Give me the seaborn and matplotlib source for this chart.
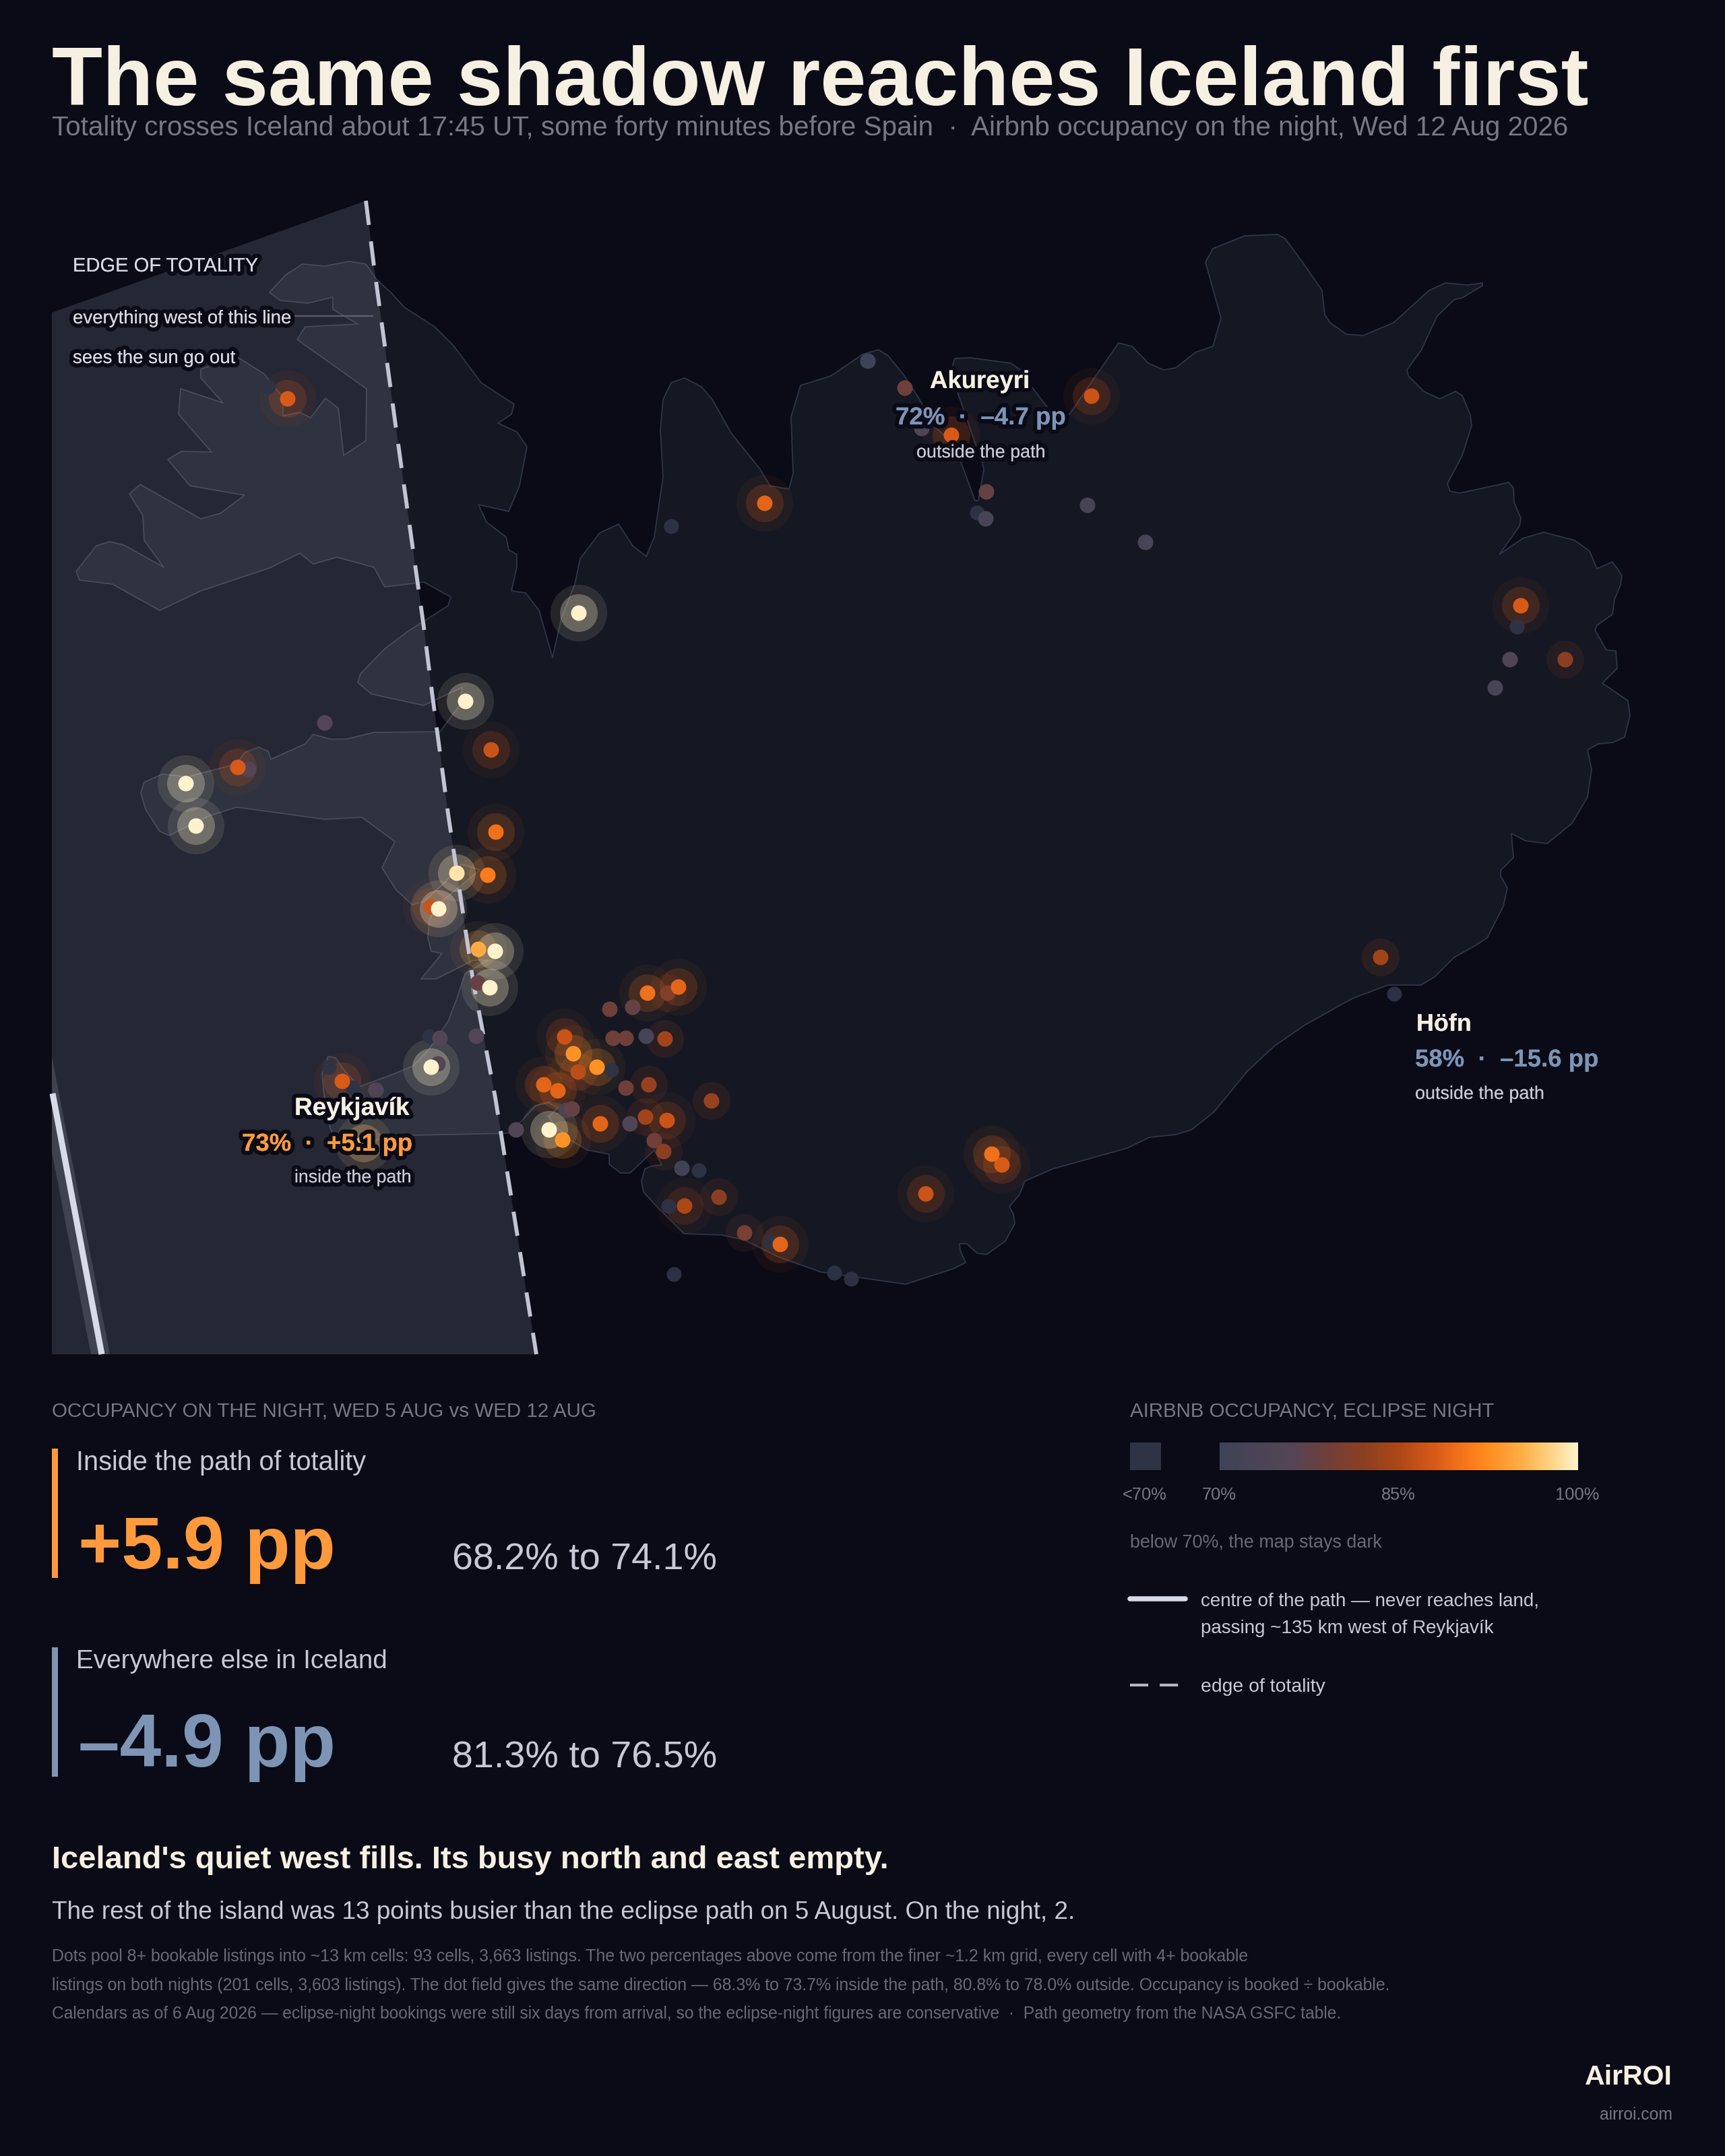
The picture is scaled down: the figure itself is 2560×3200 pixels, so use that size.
import numpy as np
import pandas as pd
import matplotlib
matplotlib.use("Agg")
import matplotlib.pyplot as plt
import matplotlib.patheffects as pe
from matplotlib.colors import LinearSegmentedColormap
from matplotlib.patches import Rectangle, Polygon
import seaborn as sns

# ---------- data (map axis units) ----------
coast_xy = [
 (400,434),(424,408),(449,392),(482,395),(518,388),(543,392),(559,415),(580,434),(600,456),(645,485),(673,513),(714,568),
 (763,600),(759,615),(739,628),(767,641),(782,663),(771,721),(755,759),(710,749),(722,775),(751,797),(755,816),(767,823),
 (767,842),(759,877),(780,880),(800,906),(820,976),(833,918),(853,867),(861,829),(890,791),(918,778),(939,810),(959,826),
 (971,797),(984,708),(980,638),(984,593),(996,568),(1016,561),(1041,574),(1057,593),(1086,644),(1127,695),(1143,721),(1171,726),
 (1177,702),(1174,619),(1188,572),(1233,558),(1280,526),(1304,519),(1318,528),(1340,555),(1363,590),(1387,633),(1402,647),(1425,683),
 (1447,743),(1452,743),(1460,697),(1458,687),(1447,657),(1422,585),(1413,545),(1417,532),(1440,531),(1500,539),(1513,548),(1532,575),
 (1553,603),(1563,617),(1587,615),(1620,567),(1660,509),(1680,514),(1704,539),(1727,549),(1745,546),(1774,523),(1800,514),(1812,472),
 (1789,389),(1800,369),(1847,350),(1896,348),(1907,354),(1933,389),(1962,431),(1966,467),(1974,479),(1998,496),(2023,498),(2068,479),
 (2121,431),(2145,420),(2178,423),(2200,420),(2200,424),(2170,442),(2158,445),(2133,469),(2109,520),(2088,549),(2090,558),(2113,581),
 (2137,592),(2160,581),(2170,587),(2182,616),(2184,632),(2170,676),(2148,718),(2152,729),(2166,732),(2239,716),(2246,724),(2247,746),
 (2257,769),(2255,781),(2225,823),(2260,799),(2291,790),(2337,802),(2359,818),(2370,844),(2393,834),(2407,854),(2405,868),(2396,890),
 (2393,912),(2370,928),(2367,935),(2384,965),(2398,966),(2400,992),(2378,1014),(2416,1040),(2419,1062),(2411,1094),(2394,1102),(2372,1104),
 (2356,1113),(2362,1142),(2356,1183),(2333,1222),(2296,1252),(2264,1248),(2243,1237),(2246,1273),(2227,1292),(2227,1300),(2237,1318),(2231,1345),
 (2207,1392),(2190,1403),(2158,1421),(2129,1450),(2109,1462),(2060,1462),(2007,1482),(1937,1521),(1892,1552),(1851,1590),(1802,1650),(1768,1677),
 (1745,1684),(1706,1688),(1673,1704),(1562,1735),(1521,1753),(1513,1773),(1498,1791),(1504,1802),(1506,1816),(1492,1842),(1464,1862),(1450,1860),
 (1435,1846),(1424,1846),(1425,1856),(1433,1874),(1415,1883),(1344,1906),(1274,1896),(1218,1888),(1154,1865),(1104,1840),(1071,1833),(1015,1831),
 (973,1789),(955,1769),(952,1753),(957,1735),(966,1731),(982,1729),(971,1707),(935,1741),(921,1741),(904,1728),(904,1713),(872,1707),
 (846,1692),(823,1670),(814,1657),(828,1644),(814,1637),(795,1641),(772,1666),(754,1682),(613,1685),(563,1690),(531,1710),(498,1696),
 (488,1668),(480,1617),(478,1593),(487,1568),(498,1570),(512,1590),(533,1613),(587,1593),(613,1582),(637,1557),(665,1516),(678,1482),
 (690,1445),(725,1425),(703,1425),(647,1453),(625,1453),(656,1415),(640,1412),(635,1392),(637,1365),(652,1340),(690,1310),(712,1291),
 (685,1283),(660,1310),(629,1338),(612,1343),(588,1321),(567,1288),(586,1249),(537,1213),(482,1216),(351,1198),(310,1211),(251,1240),
 (237,1234),(216,1201),(209,1177),(214,1161),(241,1149),(278,1153),(351,1134),(363,1117),(384,1109),(398,1115),(402,1127),(453,1104),
 (465,1090),(490,1097),(514,1097),(555,1087),(653,1086),(682,1047),(686,1020),(629,1047),(551,1030),(531,1013),(535,1000),(571,963),
 (604,938),(665,899),(669,886),(629,864),(571,871),(555,842),(500,827),(465,837),(445,821),(400,843),(298,877),(237,906),
 (167,867),(118,861),(113,848),(143,810),(163,804),(184,809),(243,842),(214,802),(212,765),(192,733),(208,719),(298,770),
 (327,762),(363,735),(282,721),(249,682),(269,670),(314,671),(265,615),(268,577),(331,598),(298,561),(298,548),(351,529),
 (392,555),(420,590),(420,617),(445,612),(461,620),(483,591),(502,606),(510,676),(543,654),(544,577),(441,504),(453,485),
 (531,481),(494,459),(494,441),(457,450),(416,446),
]
edge_x = [543, 555, 588, 629, 641, 665, 702, 735, 796]
edge_y = [298, 395, 638, 931, 1027, 1208, 1455, 1629, 2010]
shadow_corners = [(77, 2010), (77, 464)]
centre_x = [78, 151]
centre_y = [1623, 2010]
centre_band = [(77, 1569), (163, 2010), (135, 2010), (77, 1710)]

dot_x = [427,398,859,1135,996,1288,1343,1368,1412,1620,1464,1450,1463,1614,1700,2257,2251,2241,2323,2219,
         2049,2069,1472,1487,1374,691,729,482,353,369,276,291,736,678,724,640,651,710,735,727,709,653,637,707,
         640,650,508,488,523,558,540,961,1007,991,905,939,910,929,959,987,838,851,886,858,907,807,828,929,963,
         1056,849,841,766,815,835,891,935,958,990,971,985,1012,1037,1016,992,1067,1105,1143,1158,1000,1238,1263]
dot_y = [592,574,910,747,781,536,576,636,646,588,730,761,770,750,805,899,930,979,979,1021,
         1421,1475,1713,1729,1772,1041,1113,1073,1139,1142,1163,1226,1235,1296,1299,1346,1349,1409,1412,1466,1459,1541,1538,1538,
         1584,1579,1605,1584,1614,1618,1697,1474,1465,1474,1498,1495,1541,1541,1538,1542,1539,1564,1584,1591,1588,1610,1619,1615,1610,
         1634,1646,1648,1677,1677,1692,1668,1668,1658,1663,1693,1709,1734,1737,1790,1790,1777,1830,1843,1847,1891,1889,1898]
dot_occ = [88,64,100,89,68,70,79,75,88,87,78,68,72,72,72,88,65,75,82,72,
           84,62,90,88,87,100,87,76,88,76,100,100,90,99,91,87,100,95,100,100,78,76,65,76,
           100,76,88,62,65,75,97,90,89,81,79,78,79,79,72,84,87,93,93,86,64,89,89,79,83,
           83,78,74,75,100,93,89,75,84,87,79,82,70,68,85,62,82,80,62,89,64,66,66]

grad_values = [70, 76, 79, 82, 85, 88, 91, 92.5, 95.5, 97.6, 100]
grad_colors = ["#3f4356", "#534555", "#6f3f3a", "#8b3f22", "#ac4716", "#d85a18", "#fb7a1c",
               "#ff8c20", "#ffb048", "#ffd080", "#fff2cc"]
legend_ticks = ["<70%", "70%", "85%", "100%"]

BG, LAND, COAST = "#0a0b16", "#151823", "#2f3547"
CREAM, ORANGE, BLUE = "#f6f0e2", "#ff9a3c", "#7d94b5"
SOFT, MUTED, FAINT = "#c8c9d6", "#777886", "#686975"

sns.set_theme(style="dark", rc={"axes.facecolor": BG, "figure.facecolor": BG})
plt.rcParams["font.family"] = ["Liberation Sans", "DejaVu Sans"]

occ_cmap = LinearSegmentedColormap.from_list(
    "occ", [((v - 70) / 30, c) for v, c in zip(grad_values, grad_colors)], N=512)

fig = plt.figure(figsize=(25.6, 32), dpi=100, facecolor=BG)
ax = fig.add_axes([0, 0, 1, 1], facecolor=BG)
renderer = fig.canvas.get_renderer()

# ---------- map ----------
ax.add_patch(Polygon(coast_xy, closed=True, fc=LAND, ec=COAST, lw=1.3, zorder=1, joinstyle="round"))
ax.add_patch(Polygon(list(zip(edge_x, edge_y)) + shadow_corners, closed=True,
                     fc="#ccd0e6", ec="none", alpha=0.145, zorder=2))
ax.add_patch(Polygon(centre_band, closed=True, fc="#ccd0e6", ec="none", alpha=0.16, zorder=2.1))
sns.lineplot(x=centre_x, y=centre_y, sort=False, estimator=None, color="#d9dae8", lw=6.5,
             solid_capstyle="butt", ax=ax, zorder=2.2, legend=False)

dots = pd.DataFrame({"x": dot_x, "y": dot_y, "occ": dot_occ}).sort_values("occ")
scat = dict(x="x", y="y", hue="occ", hue_norm=(70, 100), palette=occ_cmap,
            linewidth=0, legend=False, ax=ax)
PX = 72 / 100  # points per pixel
area = lambda d_px: (d_px * PX) ** 2

bright = dots[dots.occ >= 97]
two = dots[(dots.occ >= 85) & (dots.occ < 97)]
one = dots[(dots.occ >= 80) & (dots.occ < 85)]
low = dots[dots.occ < 70]
mapped = dots[dots.occ >= 70]

sns.scatterplot(data=two, s=area(84), alpha=0.06, zorder=3, **scat)
sns.scatterplot(data=two, s=area(56), alpha=0.19, zorder=3.1, **scat)
sns.scatterplot(data=one, s=area(56), alpha=0.15, zorder=3.1, **scat)
sns.scatterplot(data=bright, s=area(84), alpha=0.11, zorder=3, **scat)
sns.scatterplot(data=bright, s=area(56), alpha=0.28, zorder=3.1, **scat)

sns.lineplot(x=edge_x, y=edge_y, sort=False, estimator=None, color="#c2c4d4", lw=4.2,
             linestyle=(0, (6.2, 4.2)), dash_capstyle="butt", ax=ax, zorder=3.5, legend=False)

sns.scatterplot(data=low, x="x", y="y", color="#2e3345", s=area(22), linewidth=0, alpha=0.95,
                legend=False, ax=ax, zorder=3.8)
sns.scatterplot(data=mapped, s=area(23), alpha=1.0, zorder=4, **scat)


def T(x, y, s, w, color, weight="normal", ha="left", stroke=False):
    """Place text on its baseline, sized so that it measures w pixels wide."""
    t = ax.text(x, y, s, fontsize=20, color=color, weight=weight, ha=ha, va="baseline", zorder=10)
    for _ in range(4):
        t.set_fontsize(t.get_fontsize() * w / t.get_window_extent(renderer).width)
    if stroke:
        t.set_path_effects([pe.withStroke(linewidth=9, foreground=BG), pe.Normal()])
    return t


# map labels
T(108, 403, "EDGE OF TOTALITY", 275, "#d8d9e2", stroke=True)
T(108, 480, "everything west of this line", 323, "#d8d9e2", stroke=True)
T(108, 539, "sees the sun go out", 241, "#d8d9e2", stroke=True)
ax.plot([438, 553], [469, 469], color="#5d6070", lw=1.6, zorder=9)

T(1380, 576, "Akureyri", 148, CREAM, "bold", stroke=True)
T(1329, 630, "72%  ·  –4.7 pp", 253, BLUE, "bold", stroke=True)
T(1360, 679, "outside the path", 191, SOFT, stroke=True)

T(437, 1655, "Reykjavík", 171, CREAM, "bold", stroke=True)
T(359, 1708, "73%  ·  +5.1 pp", 253, ORANGE, "bold", stroke=True)
T(437, 1755, "inside the path", 174, SOFT, stroke=True)

T(2102, 1530, "Höfn", 82, CREAM, "bold", stroke=True)
T(2100, 1583, "58%  ·  –15.6 pp", 272, BLUE, "bold", stroke=True)
T(2100, 1631, "outside the path", 192, SOFT, stroke=True)

# headings
T(77, 156, "The same shadow reaches Iceland first", 2279, CREAM, "bold")
T(77, 201, "Totality crosses Iceland about 17:45 UT, some forty minutes before Spain  ·  "
           "Airbnb occupancy on the night, Wed 12 Aug 2026", 2254, MUTED)

# stat blocks
T(77, 2103, "OCCUPANCY ON THE NIGHT, WED 5 AUG vs WED 12 AUG", 809, MUTED)
ax.add_patch(Rectangle((77, 2150), 9, 192, fc=ORANGE, ec="none"))
T(113, 2182, "Inside the path of totality", 430, SOFT)
T(116, 2328, "+5.9 pp", 382, ORANGE, "bold")
T(671, 2329, "68.2% to 74.1%", 392, SOFT)
ax.add_patch(Rectangle((77, 2445), 9, 192, fc=BLUE, ec="none"))
T(113, 2476, "Everywhere else in Iceland", 461, SOFT)
T(116, 2622, "–4.9 pp", 382, BLUE, "bold")
T(671, 2624, "81.3% to 76.5%", 392, SOFT)

# legend
T(1677, 2103, "AIRBNB OCCUPANCY, ECLIPSE NIGHT", 540, MUTED)
ax.add_patch(Rectangle((1677, 2141), 46, 41, fc="#2e3345", ec="none"))
cax = fig.add_axes([1810 / 2560, 1 - 2182 / 3200, 532 / 2560, 41 / 3200])
sns.heatmap(np.linspace(70, 100, 400).reshape(1, -1), cmap=occ_cmap, vmin=70, vmax=100, cbar=False,
            xticklabels=False, yticklabels=False, linewidths=0, rasterized=True, ax=cax)
T(1699, 2226, legend_ticks[0], 66, MUTED, ha="center")
T(1809, 2226, legend_ticks[1], 51, MUTED, ha="center")
T(2075, 2226, legend_ticks[2], 51, MUTED, ha="center")
T(2341, 2226, legend_ticks[3], 65, MUTED, ha="center")
T(1677, 2297, "below 70%, the map stays dark", 373, FAINT)
ax.plot([1677, 1759], [2373, 2373], color="#d9dae8", lw=5.4, solid_capstyle="round")
T(1782, 2384, "centre of the path — never reaches land,", 502, SOFT)
T(1782, 2424, "passing ~135 km west of Reykjavík", 434, SOFT)
ax.plot([1677, 1749], [2501, 2501], color="#b4b6c4", lw=3, linestyle=(0, (6.5, 4.1)), dash_capstyle="butt")
T(1782, 2511, "edge of totality", 185, SOFT)

# closing text
T(77, 2773, "Iceland's quiet west fills. Its busy north and east empty.", 1240, CREAM, "bold")
T(77, 2848, "The rest of the island was 13 points busier than the eclipse path on 5 August. On the night, 2.",
  1519, SOFT)
T(77, 2911, "Dots pool 8+ bookable listings into ~13 km cells: 93 cells, 3,663 listings. The two percentages "
            "above come from the finer ~1.2 km grid, every cell with 4+ bookable", 1776, FAINT)
T(77, 2954, "listings on both nights (201 cells, 3,603 listings). The dot field gives the same direction — "
            "68.3% to 73.7% inside the path, 80.8% to 78.0% outside. Occupancy is booked ÷ bookable.", 1995, FAINT)
T(77, 2996, "Calendars as of 6 Aug 2026 — eclipse-night bookings were still six days from arrival, so the "
            "eclipse-night figures are conservative  ·  Path geometry from the NASA GSFC table.", 1916, FAINT)
T(2482, 3094, "AirROI", 130, CREAM, "bold", ha="right")
T(2482, 3146, "airroi.com", 108, MUTED, ha="right")

ax.set_xlim(0, 2560)
ax.set_ylim(3200, 0)
ax.set_axis_off()
fig.savefig("out.png", dpi=100, facecolor=BG)
